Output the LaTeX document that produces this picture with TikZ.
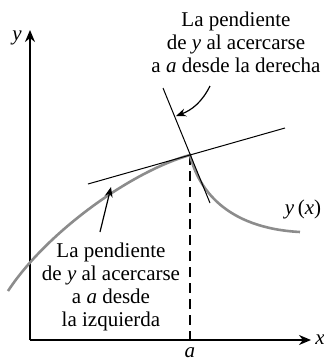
\documentclass[tikz,border=0pt]{standalone}
\usepackage{fontspec}
\setmainfont{Liberation Serif}
\usetikzlibrary{arrows.meta}
\begin{document}
\begin{tikzpicture}[x=0.5pt,y=-0.5pt,
  axis/.style={line width=0.75pt,-{Stealth[length=6pt,width=5pt]}},
  curve/.style={line width=1.3pt,draw=black!45},
  tang/.style={line width=0.5pt},
  ptr/.style={line width=0.6pt,-{Stealth[length=5pt,width=4pt]}},
  lbl/.style={inner sep=0pt,font=\fontsize{10.5}{11.5}\selectfont,align=center}]
\useasboundingbox (0,0) rectangle (324,361);
\coordinate (O) at (30,340);
\coordinate (ytop) at (30,30);
\coordinate (xend) at (311,340);
\coordinate (P) at (190,155);
\coordinate (ax) at (190,340);
\coordinate (L1) at (88,184);
\coordinate (L2) at (285,128);
\coordinate (R1) at (163,88);
\coordinate (R2) at (210,203);
\coordinate (S) at (8,291);
\coordinate (E) at (300,232);
% axes
\draw[axis] (O) -- (ytop);
\draw[axis] (O) -- (xend);
\draw[line width=0.6pt,dash pattern=on 5pt off 3pt] (P) -- (ax);
% curve
\draw[curve] (S) .. controls (46,233) and (130,172) .. (P)
  .. controls (198,188) and (225,228) .. (E);
% tangents
\draw[tang] (L1) -- (L2);
\draw[tang] (R1) -- (R2);
% labels
\node[lbl,anchor=east] (ylab) at (22,38) {\textit{y}};
\node[lbl,anchor=west] (xlab) at (315,340) {\textit{x}};
\node[lbl] (alab) at (190,353) {\textit{a}};
\node[lbl] (yx) at (303,209) {\textit{y}\,(\textit{x})};
\node[lbl,anchor=north] (top) at (236,12) {La pendiente\\de \textit{y} al acercarse\\a \textit{a} desde la derecha};
\node[lbl,anchor=north] (bot) at (111,243) {La pendiente\\de \textit{y} al acercarse\\a \textit{a} desde\\la izquierda};
% pointers
\coordinate (p1s) at (100,232);
\coordinate (p1e) at (111,187);
\coordinate (p2s) at (210,86);
\coordinate (p2e) at (176,116);
\draw[ptr] (p1s) -- (p1e);
\draw[ptr] (p2s) .. controls (202,102) and (192,110) .. (p2e);
\end{tikzpicture}
\end{document}
